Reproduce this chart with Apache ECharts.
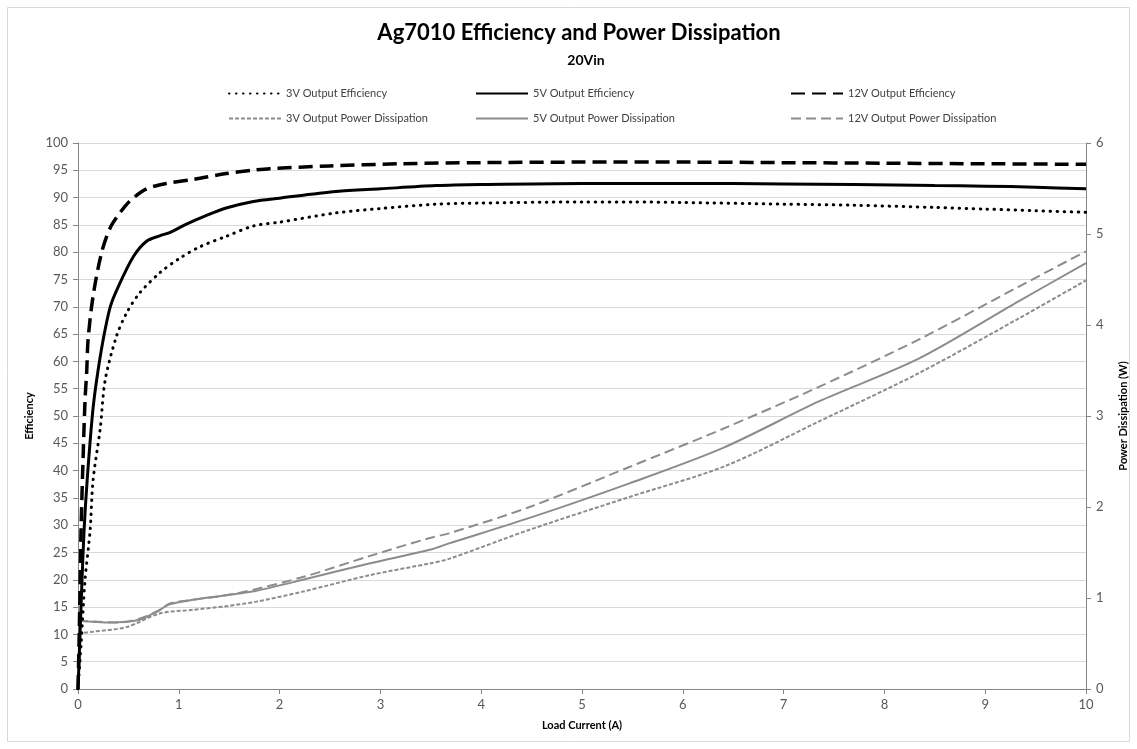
<!DOCTYPE html>
<html>
<head>
<meta charset="utf-8">
<script src="https://cdn.jsdelivr.net/npm/echarts@6/dist/echarts.min.js"></script>
<style>html,body{margin:0;padding:0;background:#fff}#c{width:1137px;height:749px}</style>
</head>
<body>
<div id="c"></div>
<script>
// Efficiency (%) vs load current (A)
const eff3X = [0,0.03,0.07,0.12,0.15,0.22,0.27,0.38,0.48,0.61,0.81,1.01,1.21,1.47,1.74,2,2.56,3,3.55,4,5,5.5,6,7,7.7,8.5,9,9.5,10];
const eff3Y = [0,8,20,29,38.3,47.6,56.6,64.5,68.8,72.5,76.2,78.9,81,82.9,84.8,85.5,87.2,88,88.8,89,89.2,89.2,89.1,88.8,88.6,88.2,87.9,87.6,87.3];
const eff5X = [0,0.02,0.04,0.06,0.09,0.145,0.185,0.25,0.32,0.40,0.55,0.68,0.81,0.91,1.07,1.27,1.47,1.74,2,2.56,3,3.55,4,5,6,7,7.7,8.5,9,9.5,10];
const eff5Y = [0,10,20,29,38,50.6,56.6,64,70,73.7,79.2,82,83,83.6,85.1,86.7,88.1,89.3,89.9,91.1,91.6,92.2,92.4,92.6,92.6,92.5,92.4,92.2,92.1,91.9,91.6];
const eff12X = [0,0.01,0.02,0.03,0.05,0.07,0.086,0.10,0.15,0.235,0.32,0.40,0.51,0.68,0.88,1.14,1.47,1.73,1.9,2.5,3.2,4,5,6,7,8,9,10];
const eff12Y = [0,8,18,29,42,53,58,64,72,80,84.5,86.8,89.3,91.6,92.6,93.3,94.4,95,95.3,95.8,96.2,96.4,96.5,96.5,96.4,96.3,96.2,96.1];
// Power dissipation (W) vs load current (A)
const pd3X = [0,0.15,0.48,0.81,1.14,1.47,1.77,2.23,2.89,3.49,3.68,4.48,5.47,6.42,7.35,8.34,9.33,10];
const pd3Y = [0.61,0.63,0.68,0.83,0.87,0.91,0.96,1.07,1.25,1.38,1.43,1.75,2.11,2.45,2.94,3.47,4.07,4.49];
const pd5X = [0,0.32,0.61,0.78,0.91,1.14,1.47,1.77,2.23,2.89,3.49,3.68,4.48,5.47,6.4,7.35,8.34,9.33,10];
const pd5Y = [0.75,0.73,0.76,0.85,0.93,0.98,1.03,1.08,1.2,1.38,1.53,1.6,1.88,2.26,2.65,3.16,3.63,4.26,4.68];
const pd12X = [0,0.2,0.4,0.6,0.8,0.91,1.14,1.57,2.23,2.89,3.49,3.68,4.48,5.47,6.4,7.35,8.34,9.33,10];
const pd12Y = [0.75,0.74,0.73,0.77,0.86,0.94,0.98,1.05,1.23,1.46,1.66,1.71,2.0,2.44,2.86,3.32,3.84,4.42,4.81];

const names = ['3V Output Efficiency','3V Output Power Dissipation','5V Output Efficiency','5V Output Power Dissipation','12V Output Efficiency','12V Output Power Dissipation'];

const zip = (xs, ys) => xs.map((x, i) => [x, ys[i]]);
const FONT = 'Lato';
const grey = '#8c8c8c';

const chart = echarts.init(document.getElementById('c'), null, {renderer:'canvas'});
function mkLegend(left, data){
  return {left:left, top:83, orient:'vertical', itemWidth:52, itemHeight:12, itemGap:14,
    itemStyle:{opacity:0},
    data:data, textStyle:{fontFamily:FONT, fontSize:11, color:'#404040'}};
}
chart.setOption({
  animation:false,
  backgroundColor:'#fff',
  title:[
    {text:'Ag7010 Efficiency and Power Dissipation', left:574, top:17, textAlign:'center',
     textStyle:{fontFamily:FONT, fontSize:22, fontWeight:'bold', color:'#000'}},
    {text:'20Vin', left:581, top:48, textAlign:'center',
     textStyle:{fontFamily:FONT, fontSize:14, fontWeight:'bold', color:'#000'}}
  ],
  legend:[
    mkLegend(223, [names[0], names[1]]),
    mkLegend(470, [names[2], names[3]]),
    mkLegend(785, [names[4], names[5]])
  ],
  graphic:[{type:'rect', shape:{x:7.5,y:7.5,width:1122,height:734}, style:{fill:'none', stroke:'#d9d9d9', lineWidth:1}, silent:true}],
  grid:{left:78, right:49, top:143, bottom:60, containLabel:false},
  xAxis:{type:'value', min:0, max:10, interval:1,
    name:'Load Current (A)', nameLocation:'middle', nameGap:31,
    nameTextStyle:{fontFamily:FONT, fontSize:11, fontWeight:'bold', color:'#000'},
    axisLine:{show:true, lineStyle:{color:'#868686'}}, axisTick:{show:true, length:5, lineStyle:{color:'#868686'}},
    axisLabel:{fontFamily:FONT, fontSize:13, color:'#595959', margin:9},
    splitLine:{show:false}},
  yAxis:[
    {type:'value', min:0, max:100, interval:5, position:'left',
     name:'Efficiency', nameLocation:'middle', nameGap:38, nameRotate:90,
     nameTextStyle:{fontFamily:FONT, fontSize:11, fontWeight:'bold', color:'#000'},
     axisLine:{show:true, lineStyle:{color:'#868686'}}, axisTick:{show:true, length:5, lineStyle:{color:'#868686'}},
     axisLabel:{fontFamily:FONT, fontSize:13, color:'#595959', margin:10},
     splitLine:{show:true, lineStyle:{color:'#d9d9d9', width:1}}},
    {type:'value', min:0, max:6, interval:1, position:'right',
     name:'Power Dissipation (W)', nameLocation:'middle', nameGap:32, nameRotate:90,
     nameTextStyle:{fontFamily:FONT, fontSize:11, fontWeight:'bold', color:'#000'},
     axisLine:{show:true, lineStyle:{color:'#868686'}}, axisTick:{show:true, length:5, lineStyle:{color:'#868686'}},
     axisLabel:{fontFamily:FONT, fontSize:13, color:'#595959', margin:10},
     splitLine:{show:false}}
  ],
  series:[
    {name:names[0], type:'line', yAxisIndex:0, data:zip(eff3X, eff3Y), symbol:'none', smooth:0.3, z:5,
     lineStyle:{color:'#000', width:3, type:[0.5,6.5], cap:'round'}, itemStyle:{color:'#000'}},
    {name:names[1], type:'line', yAxisIndex:1, data:zip(pd3X, pd3Y), symbol:'none', smooth:0.3, z:3,
     lineStyle:{color:grey, width:2, type:[4,2]}, itemStyle:{color:grey}},
    {name:names[2], type:'line', yAxisIndex:0, data:zip(eff5X, eff5Y), symbol:'none', smooth:0.3, z:5,
     lineStyle:{color:'#000', width:3}, itemStyle:{color:'#000'}},
    {name:names[3], type:'line', yAxisIndex:1, data:zip(pd5X, pd5Y), symbol:'none', smooth:0.3, z:3,
     lineStyle:{color:grey, width:2}, itemStyle:{color:grey}},
    {name:names[4], type:'line', yAxisIndex:0, data:zip(eff12X, eff12Y), symbol:'none', smooth:0.3, z:5,
     lineStyle:{color:'#000', width:3.5, type:[14,7]}, itemStyle:{color:'#000'}},
    {name:names[5], type:'line', yAxisIndex:1, data:zip(pd12X, pd12Y), symbol:'none', smooth:0.3, z:3,
     lineStyle:{color:grey, width:2, type:[10,5]}, itemStyle:{color:grey}}
  ]
});
</script>
</body>
</html>
